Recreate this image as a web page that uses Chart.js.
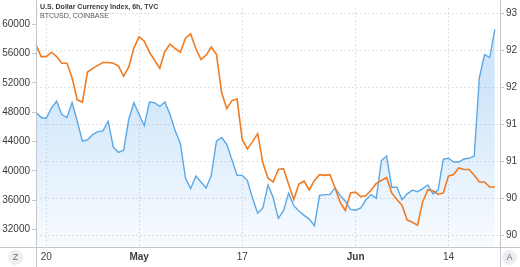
<!DOCTYPE html>
<html>
<head>
<meta charset="utf-8">
<script src="https://cdn.jsdelivr.net/npm/chart.js"></script>
<style>
html,body{margin:0;padding:0;background:#fff;}
#wrap{position:relative;width:520px;height:267px;overflow:hidden;}
#c{position:absolute;left:0;top:0;}
.t1{position:absolute;left:40px;top:3px;font:bold 7px "Liberation Sans",Arial,sans-serif;color:#3a3a3a;white-space:nowrap;}
.t2{position:absolute;left:40px;top:12px;font:7px "Liberation Sans",Arial,sans-serif;color:#5a5a5a;white-space:nowrap;}
.btn{position:absolute;top:250px;width:15px;height:15px;border-radius:50%;background:#eceef2;color:#6a6d78;font:9px "Liberation Sans",Arial,sans-serif;text-align:center;line-height:15px;}
</style>
</head>
<body>
<div id="wrap">
<canvas id="c" width="520" height="267"></canvas>
<div class="t1">U.S. Dollar Currency Index, 6h, TVC</div>
<div class="t2">BTCUSD, COINBASE</div>
<div class="btn" style="left:8px;">Z</div>
<div class="btn" style="left:502px;">A</div>
</div>
<script>
const tradingDays = ['Apr 19','Apr 20','Apr 21','Apr 22','Apr 23','Apr 26','Apr 27','Apr 28','Apr 29','Apr 30',
  'May 3','May 4','May 5','May 6','May 7','May 10','May 11','May 12','May 13','May 14',
  'May 17','May 18','May 19','May 20','May 21','May 24','May 25','May 26','May 27','May 28',
  'May 31','Jun 1','Jun 2','Jun 3','Jun 4','Jun 7','Jun 8','Jun 9','Jun 10','Jun 11',
  'Jun 14','Jun 15','Jun 16','Jun 17','Jun 18'];
const categories = tradingDays.flatMap(d => [d + ' 00:00', d + ' 12:00']).concat(['Jun 21 00:00']);

const btcusd = [57200,55600,55600,56200,55600,54700,54700,52700,49700,49400,
  53500,54000,54400,54800,54800,54700,54300,52900,54200,56800,
  58300,57700,56200,55100,54000,56300,57300,56700,56200,58100,
  58700,56700,55200,55800,56900,55900,50700,48500,49600,49800,
  44300,43000,44000,45100,41100,39000,38500,40200,40300,38200,
  36100,38200,38600,37400,38700,39500,39400,39500,37700,35700,
  34600,37000,37100,36500,36600,37400,38300,38700,39100,37000,
  36100,35300,33300,33000,32600,35800,37400,37300,36800,37000,
  39300,39500,40400,40200,40200,39400,38500,38500,37800,37800];

const dxy = [91.16,91.09,91.08,91.22,91.31,91.13,91.09,91.29,91.04,90.77,
  90.79,90.86,90.90,90.91,91.04,90.69,90.62,90.65,91.07,91.29,
  91.13,90.98,91.30,91.29,91.24,91.30,91.13,90.91,90.74,90.27,
  90.13,90.30,90.22,90.14,90.31,90.77,90.82,90.73,90.52,90.31,
  90.31,90.24,90.00,89.80,89.87,90.18,90.01,89.73,89.83,90.07,
  89.90,89.83,89.77,89.72,89.63,90.04,90.05,90.05,90.14,90.04,
  89.96,89.85,89.84,89.87,89.98,90.05,90.00,90.51,90.57,90.15,
  90.15,89.98,90.06,90.11,90.09,90.13,90.18,90.06,90.11,90.53,
  90.54,90.49,90.49,90.53,90.54,90.57,91.63,91.94,91.90,92.28];

const xTickDates = ['Apr 20 00:00','May 3 00:00','May 17 00:00','Jun 1 00:00','Jun 14 00:00'];
const xTickLabels = ['20','May','17','Jun','14'];
const btcTicks = [32000,36000,40000,44000,48000,52000,56000,60000];
const dxyTicks = [89.5,90,90.5,91,91.5,92,92.5];

const gridColor = 'rgba(120,125,140,0.22)';
const frameColor = '#c3c6cd';

const framePlugin = {
  id: 'frame',
  afterDraw(chart) {
    const {ctx, chartArea: a, width, height} = chart;
    ctx.save();
    ctx.strokeStyle = frameColor;
    ctx.lineWidth = 1;
    ctx.beginPath();
    ctx.moveTo(Math.round(a.left) + 0.5, 0); ctx.lineTo(Math.round(a.left) + 0.5, height);
    ctx.moveTo(Math.round(a.right) + 0.5, 0); ctx.lineTo(Math.round(a.right) + 0.5, height);
    ctx.moveTo(0, Math.round(a.bottom) + 0.5); ctx.lineTo(width, Math.round(a.bottom) + 0.5);
    ctx.stroke();
    ctx.restore();
  }
};

new Chart(document.getElementById('c'), {
  type: 'line',
  data: {
    labels: categories,
    datasets: [
      {
        label: 'BTCUSD, COINBASE',
        data: btcusd,
        yAxisID: 'yL',
        borderColor: '#f07b22',
        borderWidth: 1.6,
        pointRadius: 0,
        fill: false,
        tension: 0
      },
      {
        label: 'U.S. Dollar Currency Index, 6h, TVC',
        data: dxy,
        yAxisID: 'yR',
        borderColor: '#5aa8e8',
        borderWidth: 1.4,
        pointRadius: 0,
        tension: 0,
        fill: 'start',
        backgroundColor: (ctx) => {
          const ch = ctx.chart;
          const a = ch.chartArea;
          if (!a) return 'rgba(33,150,243,0.12)';
          const g = ch.ctx.createLinearGradient(0, a.top + 80, 0, a.bottom);
          g.addColorStop(0, 'rgba(40,140,235,0.22)');
          g.addColorStop(1, 'rgba(40,140,235,0.03)');
          return g;
        }
      }
    ]
  },
  options: {
    responsive: false,
    animation: false,
    layout: {padding: 0},
    plugins: {legend: {display: false}, tooltip: {enabled: false}},
    scales: {
      x: {
        type: 'category',
        offset: false,
        grid: {color: gridColor, drawTicks: false},
        border: {display: false, dash: [2, 2]},
        afterBuildTicks: (axis) => {
          axis.ticks = xTickDates.map(d => ({value: categories.indexOf(d)}));
        },
        afterFit: (axis) => { axis.height = 20; },
        ticks: {
          autoSkip: false,
          maxRotation: 0,
          padding: 4,
          color: '#3c3c3c',
          font: (ctx) => ({family: 'Liberation Sans', size: 10, weight: (ctx.tick && ['May','Jun'].includes(xTickLabels[xTickDates.indexOf(categories[ctx.tick.value])])) ? 'bold' : 'normal'}),
          callback: (value) => {
            const i = xTickDates.indexOf(categories[value]);
            return i >= 0 ? xTickLabels[i] : '';
          }
        }
      },
      yL: {
        type: 'linear',
        position: 'left',
        min: 29624,
        max: 62228,
        grid: {drawOnChartArea: false, tickLength: 4, color: frameColor},
        border: {display: false},
        afterBuildTicks: (axis) => { axis.ticks = btcTicks.map(v => ({value: v})); },
        afterFit: (axis) => { axis.width = 36; },
        ticks: {
          padding: 2,
          color: '#3c3c3c',
          font: {family: 'Liberation Sans', size: 10},
          callback: (v) => String(v)
        }
      },
      yR: {
        type: 'linear',
        position: 'right',
        min: 89.343,
        max: 92.568,
        grid: {color: gridColor, tickLength: 4, tickColor: frameColor, tickBorderDash: []},
        border: {display: false, dash: [2, 2]},
        afterBuildTicks: (axis) => { axis.ticks = dxyTicks.map(v => ({value: v})); },
        afterFit: (axis) => { axis.width = 20; },
        ticks: {
          padding: 2,
          color: '#3c3c3c',
          font: {family: 'Liberation Sans', size: 10},
          callback: (v) => String(Math.round(v))
        }
      }
    }
  },
  plugins: [framePlugin]
});
</script>
</body>
</html>
